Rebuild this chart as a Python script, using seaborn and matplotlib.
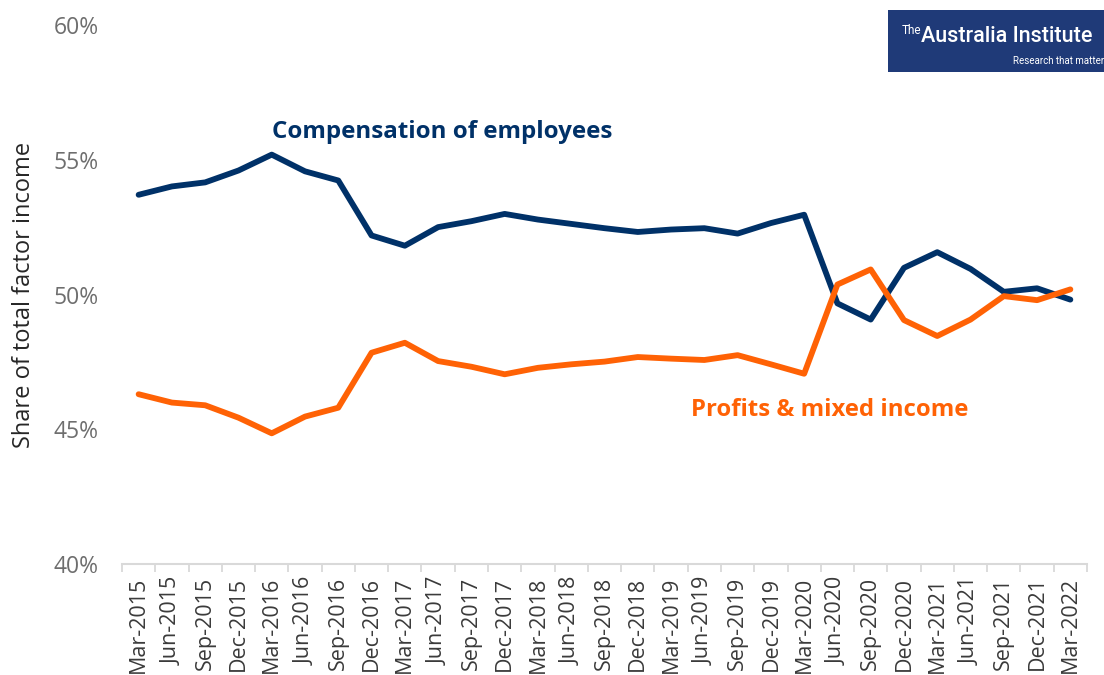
import numpy as np
import pandas as pd
import matplotlib
matplotlib.use("Agg")
import matplotlib.pyplot as plt
from matplotlib.patches import Rectangle
import seaborn as sns

quarters = ["Mar-2015", "Jun-2015", "Sep-2015", "Dec-2015", "Mar-2016", "Jun-2016",
            "Sep-2016", "Dec-2016", "Mar-2017", "Jun-2017", "Sep-2017", "Dec-2017",
            "Mar-2018", "Jun-2018", "Sep-2018", "Dec-2018", "Mar-2019", "Jun-2019",
            "Sep-2019", "Dec-2019", "Mar-2020", "Jun-2020", "Sep-2020", "Dec-2020",
            "Mar-2021", "Jun-2021", "Sep-2021", "Dec-2021", "Mar-2022"]

compensation = [53.70, 54.01, 54.16, 54.60, 55.19, 54.57, 54.23, 52.19, 51.81, 52.50,
                52.72, 52.99, 52.78, 52.62, 52.46, 52.32, 52.41, 52.46, 52.26, 52.65,
                52.96, 49.67, 49.07, 50.99, 51.57, 50.95, 50.10, 50.23, 49.81]

profits = [46.30, 45.99, 45.89, 45.43, 44.85, 45.47, 45.80, 47.84, 48.21, 47.53,
           47.32, 47.04, 47.28, 47.41, 47.51, 47.68, 47.62, 47.57, 47.75, 47.41,
           47.06, 50.37, 50.93, 49.05, 48.46, 49.07, 49.94, 49.79, 50.19]

series_names = ["Compensation of employees", "Profits & mixed income"]
y_ticks = [40, 45, 50, 55, 60]

NAVY = "#003168"
ORANGE = "#FF6205"

sns.set_theme(style="white")
plt.rcParams["font.family"] = ["Open Sans", "DejaVu Sans"]

df = pd.DataFrame({
    "pos": list(range(len(quarters))) * 2,
    "quarter": quarters * 2,
    "value": compensation + profits,
    "series": [series_names[0]] * len(quarters) + [series_names[1]] * len(quarters),
})

fig = plt.figure(figsize=(11.04, 6.75), dpi=100)
ax = fig.add_axes([0.1105, 0.1644, 0.8741, 0.7986])

sns.lineplot(data=df, x="pos", y="value", hue="series",
             palette={series_names[0]: NAVY, series_names[1]: ORANGE},
             linewidth=4.2, legend=False, ax=ax, sort=False)

ax.set_xlim(-0.5, len(quarters) - 0.5)
ax.set_ylim(40, 60)
ax.set_yticks(y_ticks)
ax.set_yticklabels([f"{v}%" for v in y_ticks], fontsize=16.5, color="#6e6e6e")
ax.tick_params(axis="y", length=0, pad=17)

ax.set_xticks(range(len(quarters)))
ax.set_xticklabels(quarters, rotation=90, fontsize=15.5, color="#3a3a3a")
ax.set_xticks(np.arange(-0.5, len(quarters)), minor=True)
ax.tick_params(axis="x", which="major", length=0, pad=9)
ax.tick_params(axis="x", which="minor", length=6, width=1.3, color="#d9d9d9",
               bottom=True, direction="out")

for s in ["top", "right", "left"]:
    ax.spines[s].set_visible(False)
ax.spines["bottom"].set_color("#d9d9d9")
ax.spines["bottom"].set_linewidth(1.5)

ax.set_xlabel("")
ax.set_ylabel("Share of total factor income", fontsize=17, color="#262626")
ax.yaxis.set_label_coords(-0.089, 0.5)
ax.grid(False)

ax.text(4.0, 56.03, series_names[0], fontsize=17.4, fontweight="bold", color=NAVY,
        ha="left", va="center")
ax.text(16.6, 45.7, series_names[1], fontsize=17.2, fontweight="bold", color=ORANGE,
        ha="left", va="center")

# Logo box
fig.patches.append(Rectangle((888 / 1104, 1 - 72 / 675), (1104 - 888) / 1104, 62 / 675,
                             transform=fig.transFigure, facecolor="#1f3a78",
                             edgecolor="none", zorder=5))
fig.text(902 / 1104, 1 - 31 / 675, "The", color="white", fontsize=8.5,
         ha="left", va="center", zorder=6, family=["Roboto", "DejaVu Sans"])
fig.text(921 / 1104, 1 - 36 / 675, "Australia Institute", color="white", fontsize=15.5,
         fontweight="medium", ha="left", va="center", zorder=6,
         family=["Roboto", "DejaVu Sans"])
fig.text(1013 / 1104, 1 - 61 / 675, "Research that matter", color="white", fontsize=7,
         ha="left", va="center", zorder=6, family=["Roboto", "DejaVu Sans"])

fig.savefig("out.png", dpi=100)
